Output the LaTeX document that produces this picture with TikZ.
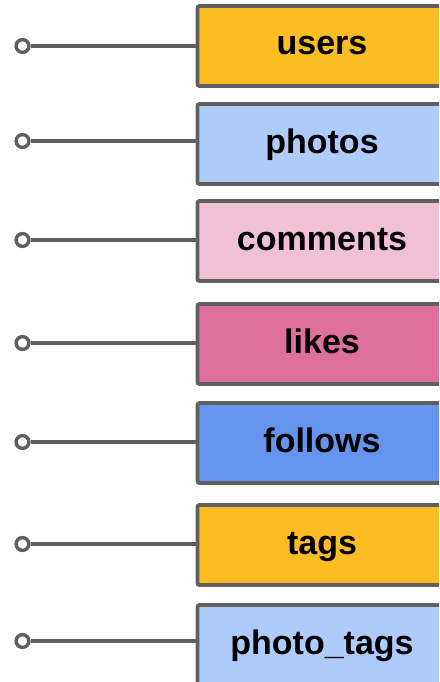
\documentclass[tikz,border=0pt]{standalone}
\usepackage{fontspec}
\setmainfont{Liberation Sans}
\definecolor{edgegray}{HTML}{5F5F5F}
\definecolor{tblyellow}{HTML}{FBBC24}
\definecolor{tblblue}{HTML}{AECBFA}
\definecolor{tblpink}{HTML}{F0C0D5}
\definecolor{tblrose}{HTML}{DF709C}
\definecolor{tblcorn}{HTML}{6494ED}
\begin{document}
\begin{tikzpicture}[x=1pt,y=-1pt,
  tablebox/.style={draw=edgegray, line width=3.8pt, rounded corners=2pt,
    minimum width=249pt, minimum height=80pt, inner sep=0pt},
  tablelabel/.style={inner sep=0pt, text height=24pt, text depth=6pt,
    font=\fontsize{34}{40}\selectfont\bfseries},
  port/.style={circle, draw=edgegray, fill=white, line width=3.4pt,
    minimum size=12.8pt, inner sep=0pt},
  link/.style={draw=edgegray, line width=3.3pt}]
  \useasboundingbox (0,0) rectangle (439,682);
  \clip (0,0) rectangle (439,682);
  % table boxes: name / fill / box centre / connector height / label
  \foreach \n/\col/\cy/\ly/\txt in {users/tblyellow/46/46/users,
      photos/tblblue/144/141/photos, comments/tblpink/241/240/comments,
      likes/tblrose/344/343/likes, follows/tblcorn/443/442/follows,
      tags/tblyellow/545/544/tags, phototags/tblblue/645/641/photo\_tags}{
    \node[tablebox, fill=\col] (\n) at (322,\cy) {};
    \node[tablelabel] (l\n) at (\n) {\txt};
    \node[port] (c\n) at (22.5,\ly) {};
    \draw[link] (c\n.east) -- (c\n -| \n.west);
  }
\end{tikzpicture}
\end{document}
